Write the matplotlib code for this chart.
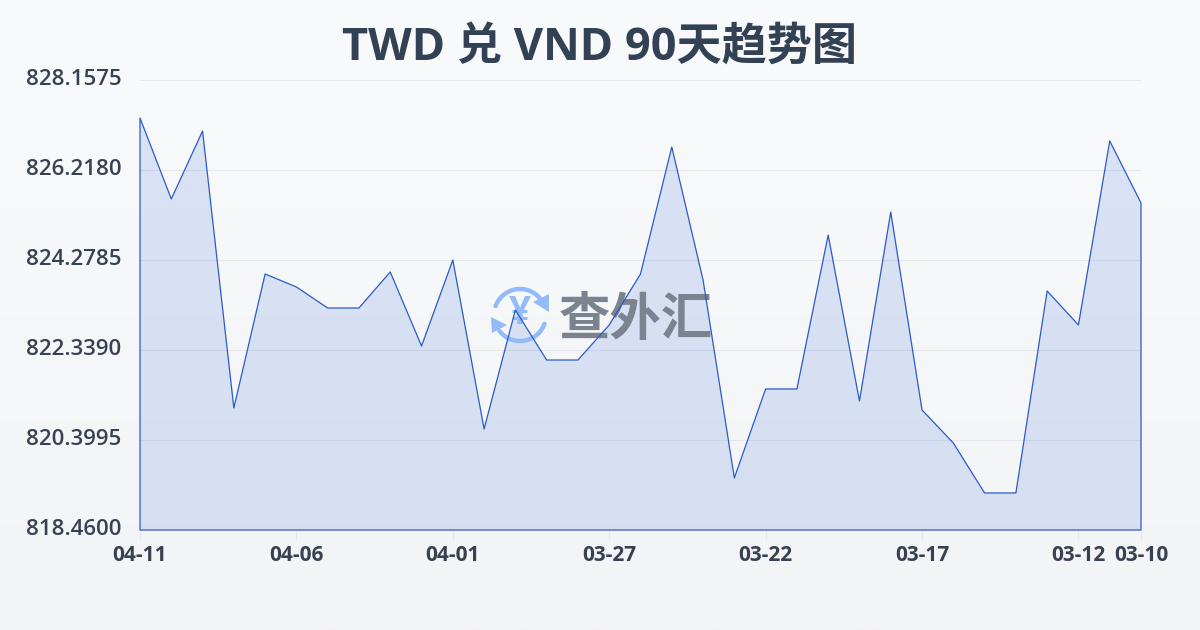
# %%

import numpy as np
import matplotlib
matplotlib.use("Agg")
import matplotlib.pyplot as plt
from matplotlib.patches import Polygon
from matplotlib.transforms import Affine2D, ScaledTranslation

plt.rcParams['font.family'] = ['Open Sans', 'Noto Sans CJK SC', 'DejaVu Sans']

title = "TWD 兑 VND 90天趋势图"
days = ["04-11", "04-10", "04-09", "04-08", "04-07", "04-06", "04-05", "04-04", "04-03",
        "04-02", "04-01", "03-31", "03-30", "03-29", "03-28", "03-27", "03-26", "03-25",
        "03-24", "03-23", "03-22", "03-21", "03-20", "03-19", "03-18", "03-17", "03-16",
        "03-15", "03-14", "03-13", "03-12", "03-11", "03-10"]
rates = [827.339, 825.593, 827.058, 821.089, 823.977, 823.697, 823.244, 823.244, 824.020,
         822.425, 824.278, 820.637, 823.201, 822.123, 822.123, 822.878, 823.977, 826.714,
         823.848, 819.581, 821.499, 821.499, 824.817, 821.240, 825.313, 821.046, 820.335,
         819.258, 819.258, 823.611, 822.878, 826.843, 825.507]
y_ticks = [818.4600, 820.3995, 822.3390, 824.2785, 826.2180, 828.1575]
x_labels = ["04-11", "04-06", "04-01", "03-27", "03-22", "03-17", "03-12", "03-10"]

W, H = 1200, 630
fig = plt.figure(figsize=(W / 100, H / 100), dpi=100)

# page background, soft vertical gradient
bg = fig.add_axes([0, 0, 1, 1], zorder=0)
bg.imshow(np.linspace(0, 1, 256).reshape(-1, 1), aspect="auto", extent=(0, W, H, 0),
          cmap=matplotlib.colors.LinearSegmentedColormap.from_list("bg", ["#f9fafc", "#f3f4f6"]))
bg.axis("off")

ax = fig.add_axes([140 / W, 1 - 530 / H, 1001 / W, 450 / H], zorder=2)
ax.patch.set_alpha(0)
x = np.arange(len(days))
ax.set_xlim(0, len(days) - 1)
ax.set_ylim(y_ticks[0], y_ticks[-1])
ax.fill_between(x, rates, y_ticks[0], facecolor="#2f66d8", alpha=0.15, linewidth=0, zorder=2, clip_on=False)
ax.fill_between(x, rates, y_ticks[0], facecolor="none", edgecolor="#2a5cc4", linewidth=0.9, zorder=4, clip_on=False)

ax.set_yticks(y_ticks, [f"{v:.4f}" for v in y_ticks])
ax.set_xticks([days.index(d) for d in x_labels], x_labels)
ax.grid(axis="y", color="#e5e7eb", linewidth=0.8, zorder=1)
ax.tick_params(axis="y", length=0, pad=13.5, labelsize=16, labelcolor="#374151")
ax.tick_params(axis="x", length=7, width=0.8, color="#e5e7eb", pad=3.5, labelsize=15, labelcolor="#374151")
for lab in ax.get_xticklabels():
    lab.set_fontweight("bold")
# y labels sit a touch above their grid line
up = ScaledTranslation(0, 2 / 72, fig.dpi_scale_trans)
for tick in ax.yaxis.get_major_ticks():
    tick.label1.set_fontweight(600)
    tick.label1.set_transform(tick.label1.get_transform() + up)
for s in ax.spines.values():
    s.set_visible(False)

fig.text(600 / W, 1 - 48 / H, title, ha="center", va="center", fontsize=32.5, fontweight="bold", color="#334155")

# watermark logo and name, above the fill and under the line. pixel coords, y down
pix = Affine2D().scale(1, -1).translate(0, H)
logo = "#93bbf9"
cx, cy, r = 520, 315, 26
for a0, a1 in [(200, 322), (20, 142)]:
    t = np.radians(np.linspace(a0, a1, 40))
    ax.plot(cx + r * np.cos(t), cy + r * np.sin(t), color=logo, lw=3.2, solid_capstyle="round",
            transform=pix, clip_on=False, zorder=3)
ax.add_patch(Polygon([(533, 302), (549, 294), (549, 312)], closed=True, color=logo, lw=0,
                     transform=pix, clip_on=False, zorder=3))
ax.add_patch(Polygon([(491, 317), (507, 325), (492, 333)], closed=True, color=logo, lw=0,
                     transform=pix, clip_on=False, zorder=3))
ax.text(cx, cy - 1, "¥", ha="center", va="center", fontsize=28, fontweight="bold", color=logo,
        transform=pix, clip_on=False, zorder=3)
ax.text(636, 322, "查外汇", ha="center", va="center", fontsize=37, fontweight="bold", color="#7b8290",
        transform=pix, clip_on=False, zorder=3)

fig.savefig("out.png", dpi=100)
